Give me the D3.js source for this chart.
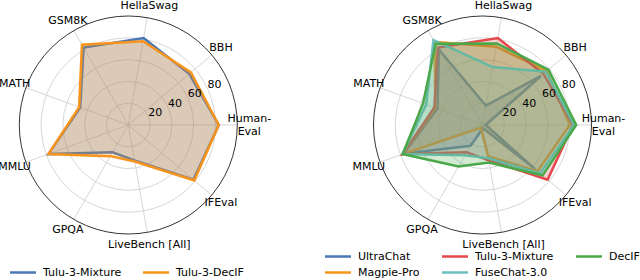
<!DOCTYPE html>
<html>
<head>
<meta charset="utf-8">
<script src="https://cdn.jsdelivr.net/npm/d3@7"></script>
<style>
  body { margin: 0; background: #fff; }
  svg { display: block; font-family: "DejaVu Sans", sans-serif; }
</style>
</head>
<body>
<div id="chart"></div>
<script>
// axes, counter-clockwise from the right
var categories = ["Human-Eval", "BBH", "HellaSwag", "GSM8K", "MATH", "MMLU", "GPQA", "LiveBench [All]", "IFEval"];
var radialTicks = [20, 40, 60, 80];

// left panel
var tulu3Mixture = [83, 73, 81, 82, 47, 78, 29, 33, 78];
var tulu3DecIF   = [83, 75, 78, 85, 48, 78, 33, 34, 79];

// right panel
var ultraChat  = [3, 70, 18, 80, 44, 77, 22, 3, 63];
var magpiePro  = [80, 77, 73, 88, 46, 78, 3, 29, 66];
var fuseChat   = [84, 76, 54, 90, 55, 78, 32, 31, 69];
var decIF      = [86, 79, 76, 86, 58, 78, 44, 35, 72];

var W = 640, H = 280, R = 109;

var svg = d3.select("#chart").append("svg").attr("width", W).attr("height", H);

var r = d3.scaleLinear().domain([0, 100]).range([0, R]);
var angle = d3.scaleLinear().domain([0, categories.length]).range([0, 2 * Math.PI]);

function radar(cx, cy, series) {
   var g = svg.append("g").attr("transform", "translate(" + cx + "," + cy + ")");

   // grid circles
   g.selectAll("circle.grid").data(radialTicks).enter().append("circle")
      .attr("r", function(d) { return r(d); })
      .style("fill", "none").style("stroke", "#cccccc").style("stroke-width", 0.8);

   // spokes
   g.selectAll("line.spoke").data(categories).enter().append("line")
      .attr("x1", 0).attr("y1", 0)
      .attr("x2", function(d, i) { return r(100) * Math.cos(angle(i)); })
      .attr("y2", function(d, i) { return -r(100) * Math.sin(angle(i)); })
      .style("stroke", "#cccccc").style("stroke-width", 0.8);

   // series
   var line = d3.lineRadial()
      .angle(function(d, i) { return Math.PI / 2 - angle(i); })
      .radius(function(d) { return r(d); })
      .curve(d3.curveLinearClosed);

   series.forEach(function(s) {
      g.append("path").attr("d", line(s.values))
         .style("fill", s.color).style("fill-opacity", 0.25)
         .style("stroke", s.color).style("stroke-width", 2.5)
         .style("stroke-linejoin", "miter");
   });

   // outer frame
   g.append("circle").attr("r", r(100))
      .style("fill", "none").style("stroke", "#000").style("stroke-width", 0.8);

   // radial tick labels
   var a = 25 * Math.PI / 180;
   g.selectAll("text.tick").data(radialTicks).enter().append("text")
      .attr("x", function(d) { return (r(d) + 8) * Math.cos(a); })
      .attr("y", function(d) { return -(r(d) + 8) * Math.sin(a); })
      .attr("text-anchor", "middle").attr("dominant-baseline", "central")
      .style("font-size", "11px").text(function(d) { return d; });

   // category labels
   categories.forEach(function(c, i) {
      var x = 121 * Math.cos(angle(i)), y = -121 * Math.sin(angle(i));
      var t = g.append("text").attr("text-anchor", "middle").style("font-size", "11px");
      if (c == "Human-Eval") {
         t.append("tspan").attr("x", x).attr("y", y - 6.5).attr("dominant-baseline", "central").text("Human-");
         t.append("tspan").attr("x", x).attr("y", y + 6.5).attr("dominant-baseline", "central").text("Eval");
      } else {
         t.attr("x", x).attr("y", y).attr("dominant-baseline", "central").text(c);
      }
   });
}

function legendItem(x, y, color, label) {
   svg.append("line").attr("x1", x).attr("x2", x + 26).attr("y1", y).attr("y2", y)
      .style("stroke", color).style("stroke-width", 2.5);
   svg.append("text").attr("x", x + 33).attr("y", y).attr("dominant-baseline", "central")
      .style("font-size", "11px").text(label);
}

var blue = "#4a77b4", orange = "#f7941d", red = "#e5484d", green = "#4aa84a", teal = "#6bbfbe";

radar(128.3, 125, [
   { values: tulu3Mixture, color: blue },
   { values: tulu3DecIF, color: orange }
]);

radar(482.5, 125, [
   { values: ultraChat, color: blue },
   { values: magpiePro, color: orange },
   { values: tulu3Mixture, color: red },
   { values: fuseChat, color: teal },
   { values: decIF, color: green }
]);

legendItem(10, 272.5, blue, "Tulu-3-Mixture");
legendItem(143, 272.5, orange, "Tulu-3-DecIF");

legendItem(325, 256.5, blue, "UltraChat");
legendItem(325, 272.5, orange, "Magpie-Pro");
legendItem(442, 256.5, red, "Tulu-3-Mixture");
legendItem(442, 272.5, teal, "FuseChat-3.0");
legendItem(576, 256.5, green, "DecIF");
</script>
</body>
</html>
